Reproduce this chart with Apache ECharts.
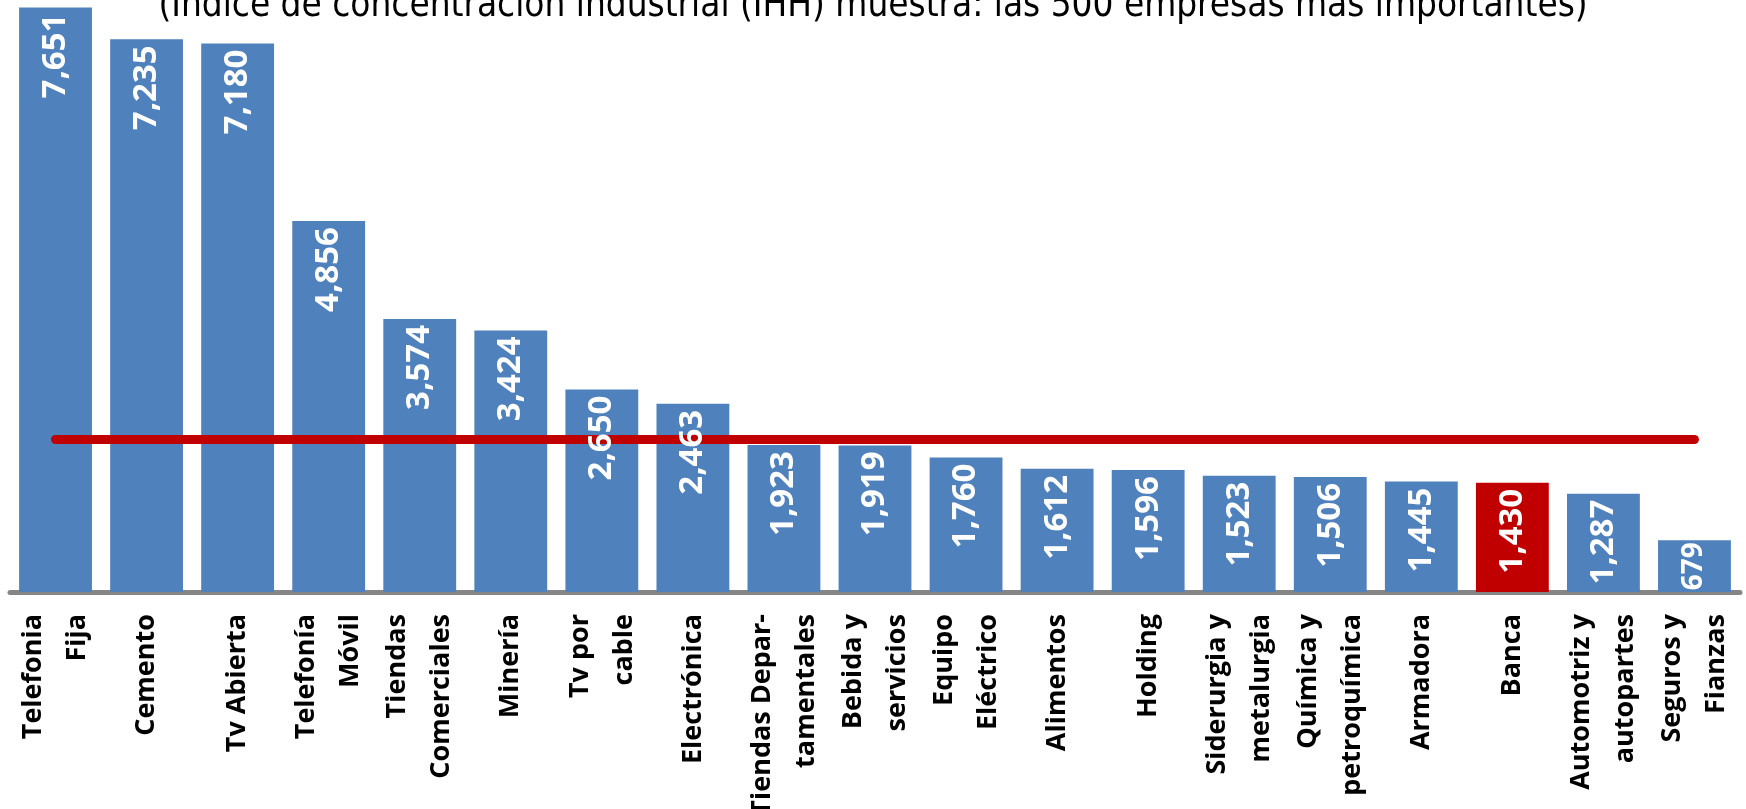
<!DOCTYPE html>
<html>
<head>
<meta charset="utf-8">
<title>IHH</title>
<script src="https://cdn.jsdelivr.net/npm/echarts@6/dist/echarts.min.js"></script>
<style>
  html, body { margin: 0; padding: 0; background: #fff; }
  #chart { width: 1746px; height: 809px; }
</style>
</head>
<body>
<div id="chart"></div>
<script>
// chart data
var titleText = "(Índice de concentración industrial (IHH) muestra: las 500 empresas más importantes)";
var categories = [
  "Telefonia\nFija", "Cemento", "Tv Abierta", "Telefonía\nMóvil", "Tiendas\nComerciales",
  "Minería", "Tv por\ncable", "Electrónica", "Tiendas Depar-\ntamentales", "Bebida y\nservicios",
  "Equipo\nEléctrico", "Alimentos", "Holding", "Siderurgia y\nmetalurgia", "Química y\npetroquímica",
  "Armadora", "Banca", "Automotriz y\nautopartes", "Seguros y\nFianzas"
];
var values = [7651, 7235, 7180, 4856, 3574, 3424, 2650, 2463, 1923, 1919, 1760, 1612, 1596, 1523, 1506, 1445, 1430, 1287, 679];
var highlighted = ["Banca"];
var threshold = 2000;

var BLUE = "#4f81bd";
var RED = "#c00000";

function fmt(v) {
  return String(v).replace(/\B(?=(\d{3})+(?!\d))/g, ",");
}

var barData = values.map(function (v, i) {
  var item = { value: v };
  if (highlighted.indexOf(categories[i]) >= 0) {
    item.itemStyle = { color: RED };
  }
  return item;
});

// labels go in a transparent copy of the bars so they sit above the red line
var labelData = values.map(function (v) {
  var item = { value: v };
  // short bar: label would run into the axis
  if (v < 1000) {
    item.label = { fontSize: 28, distance: 2 };
  }
  return item;
});

var chart = echarts.init(document.getElementById("chart"));
chart.setOption({
  animation: false,
  title: {
    text: titleText,
    left: "center",
    top: -12,
    padding: 0,
    textStyle: {
      fontFamily: "'Liberation Sans Narrow', 'DejaVu Sans Condensed', sans-serif",
      fontWeight: "normal",
      fontSize: 36.6,
      lineHeight: 36,
      color: "#000"
    }
  },
  grid: {
    left: 10,
    right: 6,
    top: 0,
    bottom: 217,
    containLabel: false,
    outerBoundsMode: "none"
  },
  xAxis: {
    type: "category",
    data: categories,
    axisLine: { lineStyle: { color: "#868686", width: 5 } },
    axisTick: { length: 10, lineStyle: { color: "#868686", width: 5 } },
    axisLabel: {
      interval: 0,
      rotate: 90,
      margin: 22,
      color: "#000",
      fontFamily: "'Open Sans', sans-serif",
      fontWeight: "bold",
      fontSize: 27,
      lineHeight: 44
    }
  },
  yAxis: {
    type: "value",
    min: 0,
    max: 7750,
    show: false,
    splitLine: { show: false }
  },
  series: [
    {
      type: "bar",
      data: barData,
      barCategoryGap: "20%",
      itemStyle: { color: BLUE },
      markLine: {
        silent: true,
        symbol: "none",
        label: { show: false },
        lineStyle: { color: RED, width: 9, type: "solid", cap: "round" },
        data: [[
          { coord: [0, threshold] },
          { coord: [categories.length - 1, threshold] }
        ]]
      }
    },
    {
      type: "bar",
      z: 10,
      silent: true,
      data: labelData,
      barGap: "-100%",
      barCategoryGap: "20%",
      itemStyle: { color: "transparent" },
      label: {
        show: true,
        position: "insideTop",
        rotate: 90,
        align: "right",
        verticalAlign: "middle",
        distance: 6,
        color: "#fff",
        fontFamily: "'Open Sans', sans-serif",
        fontWeight: "bold",
        fontSize: 33,
        formatter: function (p) { return fmt(p.value); }
      }
    }
  ]
});
</script>
</body>
</html>
